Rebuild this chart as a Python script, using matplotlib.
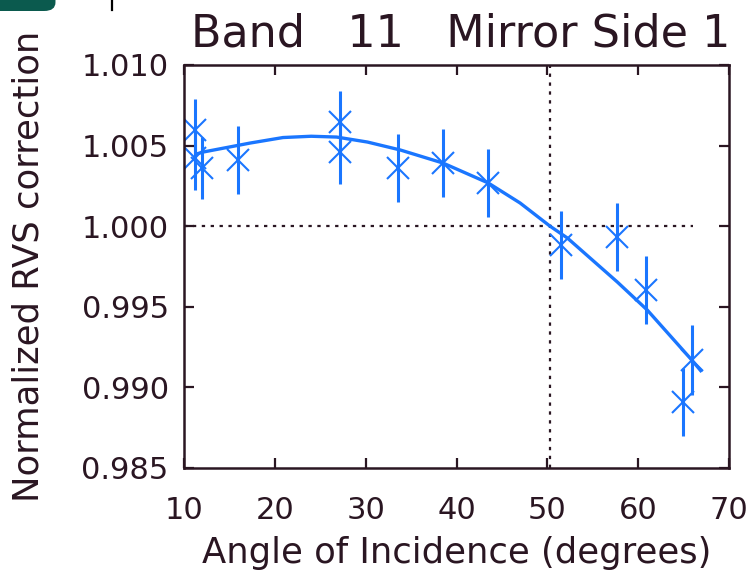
import matplotlib
matplotlib.use("Agg")
import matplotlib.pyplot as plt
from matplotlib.patches import FancyBboxPatch
from matplotlib.lines import Line2D

# measured RVS points (angle of incidence, normalized correction, 1-sigma)
angle = [11.2, 11.2, 12.0, 15.9, 27.2, 27.2, 33.6, 38.5, 43.5, 51.5, 57.7, 60.9, 64.9, 65.9]
rvs = [1.00597, 1.00423, 1.00361, 1.00411, 1.00646, 1.00460, 1.00361, 1.00392,
       1.00268, 0.99883, 0.99933, 0.99604, 0.98909, 0.99170]
rvs_err = [0.0019, 0.0020, 0.0019, 0.0021, 0.0019, 0.0020, 0.0021, 0.0021,
           0.0021, 0.0021, 0.0021, 0.0021, 0.0021, 0.0022]

# fitted curve
fit_angle = [11.2, 12.1, 17.3, 20.9, 24.0, 26.8, 30.2, 33.8, 38.5, 43.5, 47.0,
             50.3, 52.2, 57.7, 61.0, 65.9, 67.0]
fit_rvs = [1.00445, 1.00460, 1.00516, 1.00550, 1.00558, 1.00553, 1.00522, 1.00473,
           1.00392, 1.00268, 1.00144, 1.00000, 0.99927, 0.99654, 0.99480, 0.99170,
           0.99096]

x_cross = 50.3
x_ref_end = 66.0

BLUE = "#1a76ff"
INK = "#2a1622"

plt.rcParams["font.family"] = "DejaVu Sans"

fig = plt.figure(figsize=(7.52, 5.71), dpi=100)
ax = fig.add_axes([184 / 752, 1 - 468 / 571, 545 / 752, 403 / 571])

ax.plot([10, x_ref_end], [1.0, 1.0], ls=(0, (1.5, 2.5)), color=INK, lw=1.6)
ax.plot([x_cross, x_cross], [0.985, 1.010], ls=(0, (1.5, 2.5)), color=INK, lw=1.6)

ax.plot(fit_angle, fit_rvs, color=BLUE, lw=2.4, solid_capstyle="butt")
ax.errorbar(angle, rvs, yerr=rvs_err, fmt="none", ecolor=BLUE, elinewidth=2.2, capsize=0)
ax.plot(angle, rvs, ls="none", marker="x", ms=16, mew=1.5, color=BLUE)

ax.set_xlim(10, 70)
ax.set_ylim(0.985, 1.010)
ax.set_xticks([10, 20, 30, 40, 50, 60, 70])
ax.set_yticks([0.985, 0.990, 0.995, 1.000, 1.005, 1.010])
ax.set_yticklabels(["0.985", "0.990", "0.995", "1.000", "1.005", "1.010"])

ax.tick_params(direction="in", length=7, width=1.6, colors=INK, top=True, right=True,
               labelsize=22)
ax.tick_params(axis="x", pad=20)
ax.tick_params(axis="y", pad=11)
for s in ax.spines.values():
    s.set_linewidth(1.8)
    s.set_color(INK)

ax.set_title("Band   11   Mirror Side 1", fontsize=32, color=INK, pad=13, x=0.508)
ax.set_xlabel("Angle of Incidence (degrees)", fontsize=25.5, color=INK, labelpad=8)
ax.set_ylabel("Normalized RVS correction", fontsize=25.5, color=INK, labelpad=26)

# bits of the surrounding page left in the crop
fig.patches.append(FancyBboxPatch((-0.05, 1 - 11 / 571), 63 / 752 + 0.04, 0.06,
                                  boxstyle="round,pad=0,rounding_size=0.015",
                                  transform=fig.transFigure, facecolor="#0b5a4e",
                                  edgecolor="none"))
fig.lines.append(Line2D([112 / 752, 112 / 752], [1, 1 - 10 / 571], transform=fig.transFigure,
                        color="black", lw=1.6))

fig.savefig("out.png", dpi=100)
